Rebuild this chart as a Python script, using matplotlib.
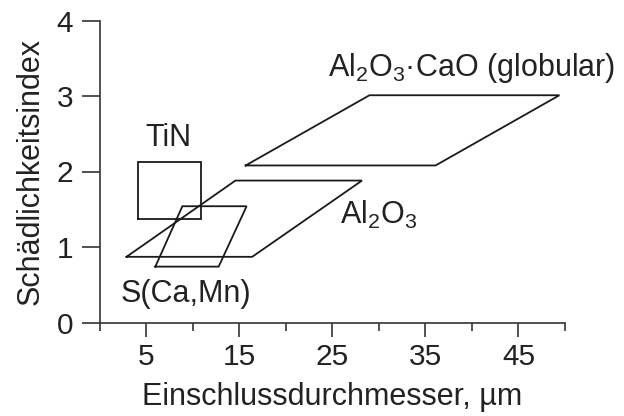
import matplotlib
matplotlib.use("Agg")
import matplotlib.pyplot as plt
from matplotlib.ticker import FixedLocator

plt.rcParams['font.family'] = ['Liberation Sans', 'DejaVu Sans']
plt.rcParams['mathtext.fontset'] = 'custom'
plt.rcParams['mathtext.rm'] = 'Liberation Sans'
plt.rcParams['mathtext.it'] = 'Liberation Sans:italic'

# Region outlines (x = inclusion diameter in µm, y = harmfulness index)
tin_x = [4.1, 10.9, 10.9, 4.1]
tin_y = [1.37, 1.37, 2.12, 2.12]

scamn_x = [6.0, 12.8, 15.8, 8.9]
scamn_y = [0.74, 0.74, 1.54, 1.54]

al2o3_x = [2.9, 16.4, 28.2, 14.6]
al2o3_y = [0.87, 0.87, 1.88, 1.88]

al2o3cao_x = [15.7, 36.1, 49.4, 29.0]
al2o3cao_y = [2.08, 2.08, 3.01, 3.01]

xticks_major = [5, 15, 25, 35, 45]
xticks_minor = [0, 10, 20, 30, 40, 50]
yticks = [0, 1, 2, 3, 4]

fig = plt.figure(figsize=(6.24, 4.16), dpi=100)
ax = fig.add_axes([99.5/624, 1 - 322.5/416, (565 - 99.5)/624, (322.5 - 20.5)/416])

lc = '#1a1a1a'
lw = 1.3
for xs, ys in [(tin_x, tin_y), (scamn_x, scamn_y), (al2o3_x, al2o3_y), (al2o3cao_x, al2o3cao_y)]:
    ax.plot(xs + xs[:1], ys + ys[:1], color=lc, lw=lw, solid_joinstyle='miter')

fs = 22
ax.text(7.4, 2.45, 'TiN', fontsize=fs, ha='center', va='center', color='#222')
ax.text(9.3, 0.38, 'S(Ca,Mn)', fontsize=fs, ha='center', va='center', color='#222')
ax.text(30.0, 1.43, 'Al$_2$O$_3$', fontsize=fs, ha='center', va='center', color='#222')
ax.text(40.0, 3.37, 'Al$_2$O$_3$·CaO (globular)', fontsize=fs, ha='center', va='center', color='#222')

ax.set_xlim(0, 50)
ax.set_ylim(0, 4)
ax.xaxis.set_major_locator(FixedLocator(xticks_major))
ax.xaxis.set_minor_locator(FixedLocator(xticks_minor))
ax.yaxis.set_major_locator(FixedLocator(yticks))
ax.set_xticklabels([str(v) for v in xticks_major])
ax.set_yticklabels([str(v) for v in yticks])

for s in ['top', 'right']:
    ax.spines[s].set_visible(False)
for s in ['left', 'bottom']:
    ax.spines[s].set_color('#333')
    ax.spines[s].set_linewidth(1.2)

tfs = 21.5
ax.tick_params(axis='x', which='major', length=10, width=1.2, color='#333', labelsize=tfs, pad=5, labelcolor='#222')
ax.tick_params(axis='x', which='minor', length=6, width=1.2, color='#333')
ax.tick_params(axis='y', which='major', length=13, width=1.2, color='#333', labelsize=tfs, pad=6, labelcolor='#222')

ax.set_xlabel('Einschlussdurchmesser, µm', fontsize=22, color='#222', labelpad=8)
ax.set_ylabel('Schädlichkeitsindex', fontsize=22, color='#222', labelpad=8)

fig.savefig('out.png', dpi=100)
